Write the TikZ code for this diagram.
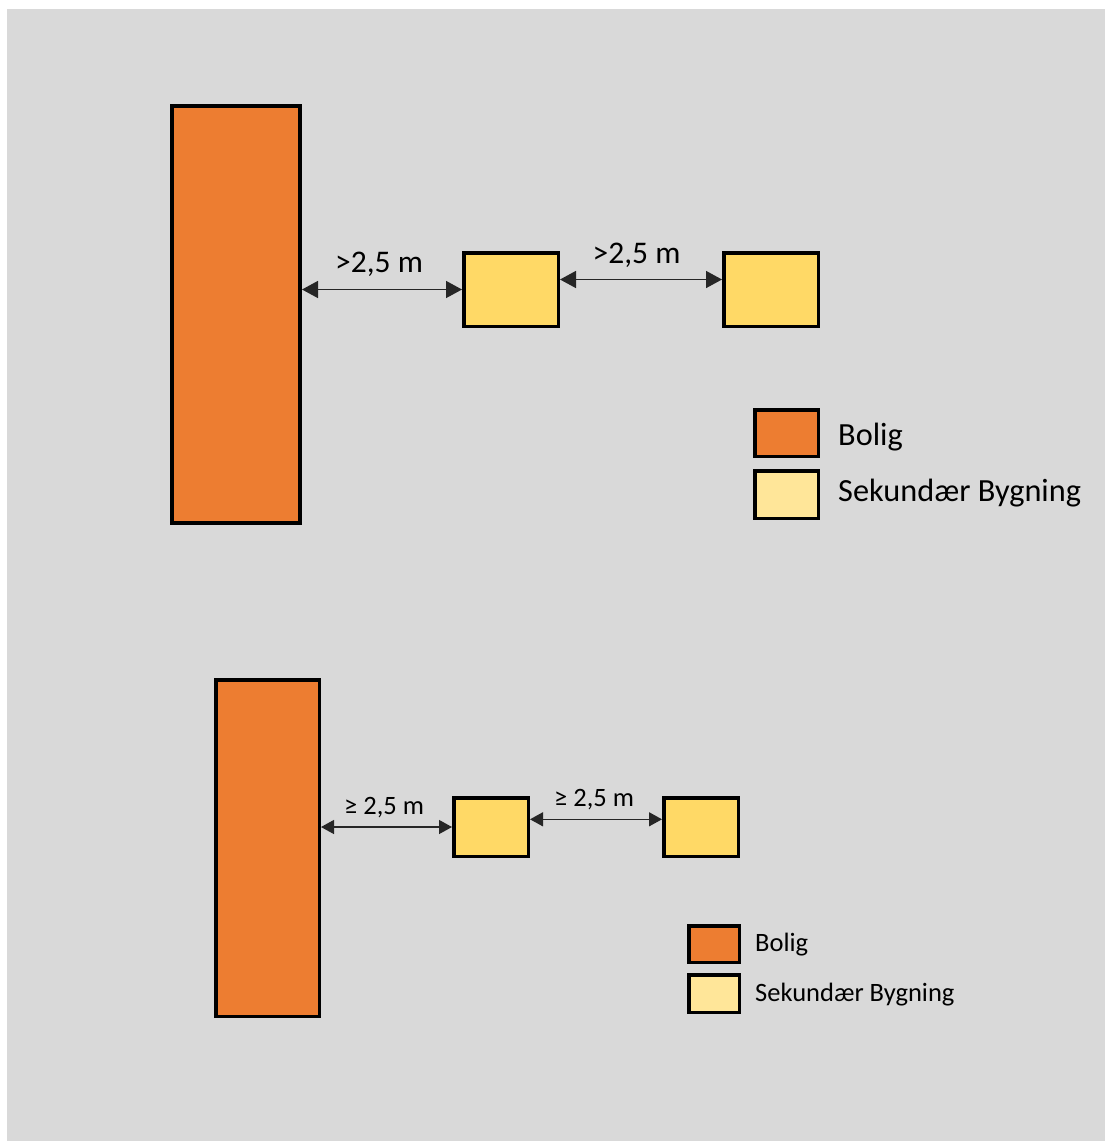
\documentclass[tikz,border=0pt]{standalone}
\usepackage{fontspec}
\setmainfont{Carlito}
\usetikzlibrary{arrows.meta}
\definecolor{bggray}{HTML}{D9D9D9}
\definecolor{bolig}{HTML}{ED7D31}
\definecolor{sekyel}{HTML}{FFD966}
\definecolor{seklight}{HTML}{FFE699}
\tikzset{
  bolighus/.style={draw=black, fill=bolig, rectangle, inner sep=0pt},
  sekhus/.style={draw=black, fill=sekyel, rectangle, inner sep=0pt},
  legbolig/.style={draw=black, fill=bolig, rectangle, inner sep=0pt, line width=3.5pt},
  legsek/.style={draw=black, fill=seklight, rectangle, inner sep=0pt, line width=3.5pt},
  bigtxt/.style={inner sep=0pt, anchor=base west, text=black, font=\fontsize{31.5}{38}\selectfont},
  smalltxt/.style={inner sep=0pt, anchor=base west, text=black, font=\fontsize{26.5}{32}\selectfont},
  legbig/.style={inner sep=0pt, anchor=base west, text=black, font=\fontsize{32.3}{39}\selectfont},
  legsmall/.style={inner sep=0pt, anchor=base west, text=black, font=\fontsize{26.5}{32}\selectfont},
  dimbig/.style={{Triangle[length=16pt,width=17pt]}-{Triangle[length=16pt,width=17pt]}, line width=1.5pt, black!85},
  dimsmall/.style={{Triangle[length=13pt,width=14pt]}-{Triangle[length=13pt,width=14pt]}, line width=1.3pt, black!85},
}
\begin{document}
\begin{tikzpicture}[x=1pt,y=-1pt]
\useasboundingbox (0,0) rectangle (1105,1141);
\fill[white] (0,0) rectangle (1105,1141);
\fill[bggray] (7,9) rectangle (1105,1141);

% top diagram
\node[bolighus, line width=4pt, minimum width=128pt, minimum height=417pt] (B1) at (236,314.5) {};
\node[sekhus, line width=3.5pt, minimum width=94.5pt, minimum height=73.5pt] (S1) at (511,289.5) {};
\node[sekhus, line width=3.5pt, minimum width=94.5pt, minimum height=73.5pt] (S2) at (771,289.5) {};
\draw[dimbig] (B1.east |- S1.west) -- (S1.west);
\draw[dimbig] ([yshift=10pt]S1.east) -- ([yshift=10pt]S2.west);
\node[bigtxt] (L1) at (335,272.5) {>2,5 m};
\node[bigtxt] (L2) at (592.5,263.5) {>2,5 m};

\node[legbolig, minimum width=63.5pt, minimum height=46.5pt] (LB1) at (786.5,433) {};
\node[legsek, minimum width=63.5pt, minimum height=47.5pt] (LS1) at (786.5,494.5) {};
\node[legbig] (LT1) at (838,445) {Bolig};
\node[legbig] (LT2) at (838,501.5) {Sekundær Bygning};

% bottom diagram
\node[bolighus, line width=3.5pt, minimum width=103.5pt, minimum height=336.5pt] (B2) at (267.5,848) {};
\node[sekhus, line width=3.5pt, minimum width=74.5pt, minimum height=58.5pt] (S3) at (491,827) {};
\node[sekhus, line width=3.5pt, minimum width=74.5pt, minimum height=58.5pt] (S4) at (701,827) {};
\draw[dimsmall] (B2.east |- S3.west) -- (S3.west);
\draw[dimsmall] ([yshift=7.7pt]S3.east) -- ([yshift=7.7pt]S4.west);
\node[smalltxt] (L3) at (344,814) {≥ 2,5 m};
\node[smalltxt] (L4) at (554,806.5) {≥ 2,5 m};

\node[legbolig, minimum width=50.5pt, minimum height=36.5pt] (LB2) at (714,944) {};
\node[legsek, minimum width=50.5pt, minimum height=37.5pt] (LS2) at (714,993.5) {};
\node[legsmall] (LT3) at (755,951.5) {Bolig};
\node[legsmall] (LT4) at (755,1001) {Sekundær Bygning};
\end{tikzpicture}
\end{document}
